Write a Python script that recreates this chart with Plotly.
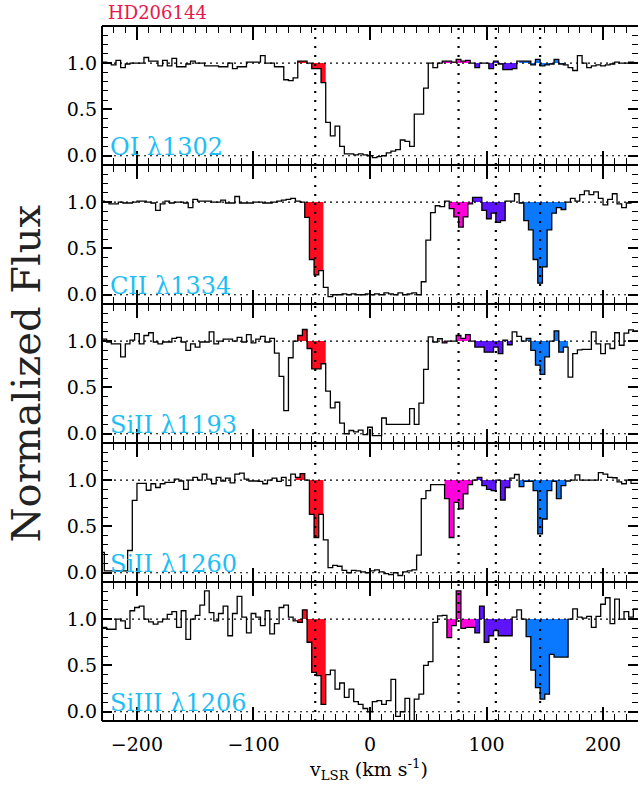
import plotly.graph_objects as go
from plotly.subplots import make_subplots

BIN = 4.0  # km/s bin width

# ---- data: normalized flux per velocity bin (bin left edge = start + BIN*i) ----
labels = ["OI λ1302", "CII λ1334", "SiII λ1193", "SiII λ1260", "SiIII λ1206"]
starts = [-234, -232, -234, -232, -234]

oi1302 = [1.01, 1.01, 1.00, 0.98, 1.03, 0.95, 0.99, 1.00, 1.00, 1.00,
          1.06, 1.02, 1.02, 0.97, 1.03, 0.97, 1.05, 0.96, 0.96, 0.99,
          1.02, 1.00, 1.00, 0.97, 0.97, 0.97, 0.96, 0.96, 1.00, 0.94,
          0.96, 0.96, 1.01, 1.01, 1.01, 1.08, 1.00, 1.00, 0.96, 0.96,
          0.82, 0.81, 0.84, 1.02, 1.02, 1.00, 0.94, 0.94, 0.79, 0.36,
          0.215, 0.32, 0.10, 0.02, 0.02, 0.01, 0.02, 0.01, 0.00, -0.02,
          -0.01, 0.00, 0.03, 0.05, 0.065, 0.17, 0.155, 0.10, 0.45, 0.45,
          0.73, 1.00, 0.95, 1.00, 1.02, 1.02, 1.01, 1.04, 1.02, 1.03,
          1.00, 0.95, 1.00, 1.00, 0.94, 1.02, 0.99, 0.93, 0.93, 0.94,
          1.02, 1.02, 1.02, 0.98, 1.04, 0.97, 0.98, 0.99, 1.04, 0.99,
          0.98, 0.95, 0.92, 1.08, 1.00, 0.95, 0.97, 0.98, 0.97, 0.98,
          0.99, 1.01, 1.00, 1.00, 1.01, 1.00, 1.00]

cii1334 = [1.01, 1.00, 0.98, 0.98, 1.00, 0.99, 0.99, 1.00, 1.01, 1.01,
           1.00, 0.99, 0.91, 0.98, 1.01, 0.99, 1.00, 1.00, 0.99, 0.94,
           1.03, 1.01, 1.01, 1.01, 1.00, 1.00, 1.02, 0.99, 0.99, 1.06,
           0.99, 0.99, 0.99, 1.00, 1.00, 0.99, 0.99, 1.00, 1.01, 1.02,
           1.03, 1.04, 1.01, 1.00, 0.835, 0.38, 0.215, 0.26, 0.08, -0.02,
           0.00, 0.00, 0.01, 0.00, 0.01, 0.00, 0.00, 0.01, 0.00, 0.01,
           0.00, 0.02, 0.01, 0.00, 0.02, 0.00, 0.01, 0.02, 0.00, 0.14,
           0.59, 0.885, 0.96, 0.95, 1.01, 0.93, 0.84, 0.73, 0.84, 0.98,
           1.05, 1.05, 0.91, 0.82, 0.88, 0.78, 0.80, 1.01, 1.01, 1.09,
           0.99, 0.80, 0.70, 0.38, 0.125, 0.30, 0.70, 0.88, 0.94, 0.92,
           1.00, 1.04, 1.01, 1.08, 1.12, 1.08, 1.11, 1.04, 0.97, 1.03,
           1.09, 0.98, 0.94, 0.99, 1.00, 1.00]

sii1193 = [1.02, 1.02, 0.99, 0.97, 0.97, 0.83, 0.97, 1.01, 1.08, 0.97,
           1.06, 1.09, 0.99, 0.97, 0.99, 0.99, 1.03, 1.04, 0.99, 0.90,
           0.97, 0.935, 0.99, 0.99, 1.10, 0.97, 1.00, 1.02, 1.02, 1.00,
           1.04, 0.99, 1.07, 0.98, 1.02, 1.05, 0.99, 1.03, 0.87, 0.62,
           0.25, 0.82, 1.00, 1.06, 1.125, 0.92, 0.70, 0.70, 0.755, 0.46,
           0.28, 0.34, 0.115, 0.00, 0.035, 0.02, 0.04, -0.01, 0.07, -0.02,
           -0.02, 0.17, 0.10, 0.10, 0.10, 0.10, 0.10, 0.27, 0.10, 0.33,
           0.695, 1.045, 0.99, 1.025, 0.98, 1.00, 1.00, 1.06, 1.03, 1.07,
           1.00, 0.935, 0.935, 0.88, 0.88, 0.935, 0.865, 1.01, 0.96, 1.10,
           1.05, 1.00, 1.03, 0.90, 0.74, 0.64, 0.83, 1.00, 1.11, 0.88,
           0.935, 0.61, 0.865, 0.905, 0.91, 0.91, 1.10, 0.97, 0.865, 0.97,
           0.92, 1.09, 0.955, 1.086, 1.12, 1.11, 1.11]

sii1260 = [0.22, 0.02, 0.02, 0.02, 0.02, 0.02, 0.24, 0.78, 0.965, 0.965,
           0.89, 0.96, 0.92, 0.96, 0.975, 0.975, 1.01, 0.99, 0.90, 1.00,
           1.03, 1.00, 1.065, 1.01, 0.96, 1.03, 0.99, 1.02, 0.97, 1.065,
           1.075, 1.01, 0.99, 0.99, 0.985, 0.96, 1.00, 1.02, 0.985, 1.03,
           0.94, 1.065, 1.03, 1.07, 1.00, 0.63, 0.38, 0.63, 0.355, 0.055,
           0.08, 0.07, 0.025, 0.00, 0.025, 0.02, 0.01, 0.00, 0.02, 0.03,
           0.01, -0.01, -0.02, 0.00, -0.03, 0.01, 0.02, 0.03, 0.19, 0.80,
           0.885, 0.95, 0.95, 0.95, 0.80, 0.38, 0.76, 0.69, 0.85, 0.95,
           1.00, 1.03, 0.94, 0.90, 0.885, 1.00, 0.785, 0.92, 1.02, 1.06,
           0.93, 0.985, 0.985, 0.885, 0.42, 0.58, 0.885, 0.985, 0.80, 0.94,
           0.99, 1.00, 1.055, 1.00, 1.00, 1.00, 1.00, 1.08, 1.065, 1.03,
           1.025, 0.98, 0.96, 1.00, 0.965, 0.965]

siiii1206 = [0.91, 0.91, 0.89, 0.89, 1.00, 0.98, 0.90, 1.09, 1.125, 1.14,
             1.00, 0.97, 0.946, 0.97, 1.00, 1.05, 1.08, 0.91, 1.09, 0.78,
             1.00, 1.04, 1.15, 1.305, 1.07, 0.98, 1.06, 1.14, 0.82, 1.06,
             1.245, 1.02, 0.85, 1.06, 1.02, 0.93, 1.09, 0.84, 0.95, 1.125,
             1.15, 1.02, 0.98, 0.965, 1.10, 0.75, 0.425, 0.39, 0.08, 0.40,
             0.45, 0.245, 0.31, 0.155, 0.245, 0.11, 0.08, 0.035, 0.00, 0.11,
             0.12, 0.08, 0.12, 0.35, -0.05, 0.00, 0.145, -0.10, 0.135, 0.19,
             0.50, 0.54, 0.965, 1.035, 1.04, 0.80, 0.93, 1.305, 0.90, 0.91,
             0.91, 0.85, 1.14, 0.75, 0.82, 0.875, 0.82, 0.82, 0.82, 1.02,
             1.10, 1.00, 0.81, 0.45, 0.26, 0.137, 0.19, 0.62, 0.59, 0.59,
             0.59, 1.00, 1.11, 1.02, 1.01, 1.03, 0.91, 1.03, 1.16, 1.23,
             0.95, 1.215, 1.00, 1.08, 1.02, 1.11, 1.11]

fluxes = [oi1302, cii1334, sii1193, sii1260, siiii1206]

# velocity components (vertical dotted lines)
components = [-47, 76, 108, 146]

# shaded velocity intervals per panel: (vmin, vmax) for red, magenta, purple, blue
region_colors = ["#FF0A1E", "#FF00DC", "#5F14FF", "#0A78FF"]
regions = [
    [(-62, -38), (62, 88), (88, 126), (128, 168)],
    [(-60, -40), (68, 88), (88, 116), (128, 168)],
    [(-62, -38), (62, 90), (90, 122), (130, 170)],
    [(-64, -40), (64, 88), (88, 120), (128, 168)],
    [(-62, -38), (66, 90), (90, 122), (130, 170)],
]

FONT = "DejaVu Serif"


def region_poly(edges, flux, a, b):
    xs, ys = [a], [1.0]
    for lo, f in zip(edges, flux):
        hi = lo + BIN
        if hi <= a or lo >= b:
            continue
        xs += [max(lo, a), min(hi, b)]
        ys += [f, f]
    xs.append(b)
    ys.append(1.0)
    return xs, ys


fig = make_subplots(rows=5, cols=1, shared_xaxes=True, vertical_spacing=0)

for p in range(5):
    row = p + 1
    flux = fluxes[p]
    edges = [starts[p] + BIN * i for i in range(len(flux))]
    for (a, b), col in zip(regions[p], region_colors):
        xs, ys = region_poly(edges, flux, a, b)
        fig.add_trace(go.Scatter(x=xs, y=ys, mode="lines", fill="toself",
                                 fillcolor=col, line=dict(width=0, color=col),
                                 hoverinfo="skip", showlegend=False),
                      row=row, col=1)
    fig.add_trace(go.Scatter(x=edges + [edges[-1] + BIN], y=flux + [flux[-1]],
                             mode="lines", line=dict(color="black", width=1.3, shape="hv"),
                             showlegend=False),
                  row=row, col=1)
    xr = "x" if row == 1 else f"x{row}"
    yr = "y" if row == 1 else f"y{row}"
    for lvl in (0.0, 1.0):
        fig.add_shape(type="line", xref=f"{xr} domain", yref=yr, x0=0, x1=1, y0=lvl, y1=lvl,
                      line=dict(color="black", width=1.2, dash="2px,4px"), layer="above")
    for c in components:
        fig.add_shape(type="line", xref=xr, yref=f"{yr} domain", x0=c, x1=c, y0=0, y1=1,
                      line=dict(color="black", width=2.2, dash="2px,7px"), layer="above")
    fig.add_annotation(text=labels[p], xref=f"{xr} domain", yref=f"{yr} domain",
                       x=0.012, y=0, xanchor="left", yanchor="bottom", yshift=2,
                       showarrow=False, font=dict(family=FONT, size=24, color="#1EBEF5"))

# frame: left border and single panel separators (right border lies outside the picture)
fig.add_shape(type="line", xref="paper", yref="paper", x0=0, x1=0, y0=0, y1=1,
              line=dict(color="black", width=2), layer="above")
for k in range(6):
    fig.add_shape(type="line", xref="paper", yref="paper", x0=0, x1=1, y0=k / 5, y1=k / 5,
                  line=dict(color="black", width=2), layer="above")

fig.update_xaxes(range=[-230, 230], ticks="inside", ticklen=14, tickwidth=1.5, tickcolor="black",
                 dtick=100, tick0=0,
                 minor=dict(ticks="inside", ticklen=7, dtick=10, tick0=0, tickwidth=1.2,
                            tickcolor="black", showgrid=False),
                 showline=False, mirror="allticks",
                 showgrid=False, zeroline=False,
                 tickfont=dict(family=FONT, size=19, color="black"), ticklabelstandoff=10)
fig.update_yaxes(range=[-0.1, 1.4], ticks="inside", ticklen=10, tickwidth=1.5, tickcolor="black",
                 dtick=0.5, tick0=0, tickformat=".1f",
                 minor=dict(ticks="inside", ticklen=6, dtick=0.1, tick0=0, tickwidth=1.2,
                            tickcolor="black", showgrid=False),
                 showline=False, mirror="allticks",
                 showgrid=False, zeroline=False,
                 tickfont=dict(family=FONT, size=19, color="black"), ticklabelstandoff=4)

fig.add_annotation(text="HD206144", xref="paper", yref="paper", x=0.008, y=1.0194,
                   xanchor="left", yanchor="middle", showarrow=False,
                   font=dict(family=FONT, size=18, color="#E8174A"))
fig.add_annotation(text="Normalized Flux", xref="paper", yref="paper", x=-0.142, y=0.5,
                   xanchor="center", yanchor="middle", textangle=-90, showarrow=False,
                   font=dict(family=FONT, size=40, color="#222222"))
fig.add_annotation(text="v<sub>LSR</sub> (km s<sup>-1</sup>)", xref="paper", yref="paper",
                   x=0.498, y=-0.07, xanchor="center", yanchor="middle", showarrow=False,
                   font=dict(family=FONT, size=19, color="black"))

fig.update_layout(width=638, height=787, margin=dict(l=102, r=0, t=26, b=66),
                  paper_bgcolor="white", plot_bgcolor="white", showlegend=False)

fig.write_html("out.html")
